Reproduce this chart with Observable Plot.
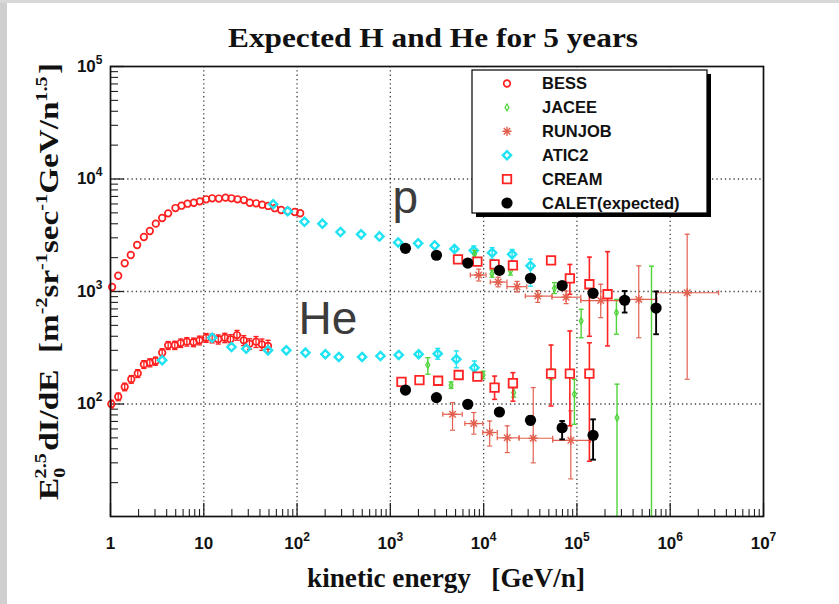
<!DOCTYPE html>
<html><head><meta charset="utf-8">
<script src="https://cdn.jsdelivr.net/npm/d3@7"></script>
<script src="https://cdn.jsdelivr.net/npm/@observablehq/plot@0.6"></script>
<style>
body{margin:0;background:#fff;}
#chart{position:absolute;left:0;top:0;}
.stripL{position:absolute;left:0;top:0;width:7px;height:604px;background:#cfcfcf;}
.stripT{position:absolute;left:0;top:0;width:839px;height:3px;background:#d8d8d8;}
</style></head><body>
<div id="chart"></div><div class="stripL"></div><div class="stripT"></div>
<script>
// ---------------- data ----------------
const legendNames = ["BESS", "JACEE", "RUNJOB", "ATIC2", "CREAM", "CALET(expected)"];
const xTickValues = [1, 10, 100, 1e3, 1e4, 1e5, 1e6, 1e7];
const yTickValues = [100, 1e3, 1e4, 1e5];
const xGridValues = [10, 100, 1e3, 1e4, 1e5, 1e6];
const yGridValues = [100, 1e3, 1e4];
const annotations = [{text: "p", x: 1053, y: 6780}, {text: "He", x: 103.5, y: 566}];

// BESS proton
const bessP_E = [1.04,1.21,1.42,1.65,1.93,2.28,2.64,3.06,3.58,4.15,4.97,5.77,6.69,7.82,9.06,10.6,12.3,14.5,17.1,19.8,23,26.9,31.1,36.4,42.3,49,57.7,67.6,79.4,94.4,108];
const bessP_F = [1096,1380,1782,2110,2590,3050,3450,4010,4500,4950,5520,5790,6030,6150,6330,6600,6740,6700,6830,6740,6600,6500,6150,6080,5910,5760,5500,5300,5200,5090,4960];
// BESS helium
const bessHe_E = [1.02,1.21,1.42,1.67,1.96,2.28,2.64,3.04,3.58,4.15,4.89,5.66,6.58,7.76,8.98,10.6,12.3,14.3,16.8,19.3,22.7,26.8,30.9,36.3,42,48.8];
const bessHe_F = [100,116,142,166,187,225,233,241,286,332,333,348,358,354,368,388,384,376,388,376,410,368,343,358,339,328];
const bessHe_lo = [92,107,131,153,172,207,214,221,262,305,305,318,327,323,335,353,349,341,351,339,369,330,306,318,300,288];
const bessHe_hi = [108,125,153,179,202,243,252,261,310,359,361,378,389,385,401,423,419,411,425,413,451,406,380,398,378,368];

// ATIC2 proton
const aticP_E = [55.4,79.4,120,187,292,486,764,1212,1986,2990,4864,7840,12330,20200,31800];
const aticP_F = [5960,5170,4170,4010,3380,3220,3090,2730,2680,2570,2390,2310,2210,2140,1690];
const aticP_lo = [null,null,null,null,null,null,null,null,null,null,2290,2000,1940,1870,1115];
const aticP_hi = [null,null,null,null,null,null,null,null,null,null,2500,2540,2450,2360,1940];
// ATIC2 helium
const aticHe_E = [3.58,12.3,19.8,28.5,48.8,76.7,123,201,280,498,783,1230,2010,3220,5100,7970];
const aticHe_F = [245,388,321,310,300,300,286,277,262,262,267,273,277,280,250,210];
const aticHe_lo = [null,null,null,null,null,null,null,null,null,null,null,null,265,250,210,171];
const aticHe_hi = [null,null,null,null,null,null,null,null,null,null,null,null,292,312,296,241];

// JACEE proton
const jaceeP_E = [8000,12300,19400,57400,111000,265000];
const jaceeP_F = [2150,1440,1520,1067,547,649];
const jaceeP_lo = [2000,1340,1400,960,388,417];
const jaceeP_hi = [2320,1550,1650,1200,694,850];
// JACEE helium
const jaceeHe_E = [2520,4480,9860,21000,53000,94000,269000,630000];
const jaceeHe_F = [222,147,181,126,186,122,75.5,1];
const jaceeHe_lo = [184,138,168,115,165,66,1,1];
const jaceeHe_hi = [258,157,195,140,205,166,150,1680];

// RUNJOB proton
const runjobP_E = [8850,14300,22800,38000,76600,180000,460000,1520000];
const runjobP_F = [1400,1213,1104,910,890,830,850,975];
const runjobP_lo = [1240,1100,990,800,780,585,388,166];
const runjobP_hi = [1580,1340,1230,1020,1010,1160,1690,3230];
const runjobP_E0 = [7200,11800,17800,28000,54000,110000,290000,720000];
const runjobP_E1 = [10600,17800,29000,54000,110000,290000,720000,3300000];
// RUNJOB helium
const runjobHe_E = [4640,7840,11600,17900,34000,86000];
const runjobHe_F = [81,67,55.8,50,49.6,47.5];
const runjobHe_lo = [58.5,54,42.3,37,30,21.6];
const runjobHe_hi = [103,84,70.6,64,140,87];
const runjobHe_E0 = [3650,6300,9800,14000,24000,55000];
const runjobHe_E1 = [5900,9800,14000,24000,55000,140000];

// CREAM proton
const creamP_E = [5310,8570,13100,20600,52800,84000,136000,213000];
const creamP_F = [1932,1840,1740,1710,1890,1310,1160,945];
const creamP_lo = [1850,1760,1610,1580,1800,945,400,328];
const creamP_hi = [2020,1930,1880,1860,1990,1740,2020,2260];
// CREAM helium
const creamHe_E = [1316,2050,3250,5400,8570,13100,20600,52800,84000,136000];
const creamHe_F = [157,163,161,181,175,140,153,186,186,186];
const creamHe_lo = [150,156,154,172,166,110,106,96,64,31];
const creamHe_hi = [164,170,168,190,185,177,190,334,446,350];

// CALET expected proton
const caletP_E = [1452,3120,6760,14760,31800,69400,149000,325000,706000];
const caletP_F = [2420,2100,1790,1540,1310,1130,964,836,713];
const caletP_lo = [null,null,null,null,null,null,900,650,417];
const caletP_hi = [null,null,null,null,null,null,1040,1010,1000];
// CALET expected helium
const caletHe_E = [1452,3120,6760,14760,31800,69400,149000];
const caletHe_F = [133,114,99.4,84.9,71.6,61.5,52.7];
const caletHe_lo = [null,null,null,null,66,48.5,32];
const caletHe_hi = [null,null,null,null,78,70.6,73];

// ---------------- helpers ----------------
function rows(E, F, lo, hi, x0, x1) {
  return E.map((x, i) => ({
    x, y: F[i],
    lo: lo ? lo[i] : null, hi: hi ? hi[i] : null,
    x0: x0 ? x0[i] : null, x1: x1 ? x1[i] : null
  }));
}
const capH = {draw(ctx, size) { const r = Math.sqrt(size / Math.PI); ctx.moveTo(-r, 0); ctx.lineTo(r, 0); }};
const capV = {draw(ctx, size) { const r = Math.sqrt(size / Math.PI); ctx.moveTo(0, -r); ctx.lineTo(0, r); }};
const star = {draw(ctx, size) {
  const r = Math.sqrt(size / Math.PI), q = r * Math.SQRT1_2;
  ctx.moveTo(-r, 0); ctx.lineTo(r, 0); ctx.moveTo(0, -r); ctx.lineTo(0, r);
  ctx.moveTo(-q, -q); ctx.lineTo(q, q); ctx.moveTo(-q, q); ctx.lineTo(q, -q);
}};

function errMarks(data, color, sw, capR) {
  const v = data.filter(d => d.lo != null);
  const h = data.filter(d => d.x0 != null);
  const common = {stroke: color, strokeWidth: sw, clip: true};
  return [
    Plot.ruleX(v, {x: "x", y1: "lo", y2: "hi", ...common}),
    Plot.dot(v, {x: "x", y: "lo", symbol: capH, r: capR, fill: "none", ...common}),
    Plot.dot(v, {x: "x", y: "hi", symbol: capH, r: capR, fill: "none", ...common}),
    Plot.ruleY(h, {y: "y", x1: "x0", x2: "x1", ...common}),
    Plot.dot(h, {x: "x0", y: "y", symbol: capV, r: capR, fill: "none", ...common}),
    Plot.dot(h, {x: "x1", y: "y", symbol: capV, r: capR, fill: "none", ...common})
  ];
}

const bessP = rows(bessP_E, bessP_F);
const bessHe = rows(bessHe_E, bessHe_F, bessHe_lo, bessHe_hi);
const aticP = rows(aticP_E, aticP_F, aticP_lo, aticP_hi);
const aticHe = rows(aticHe_E, aticHe_F, aticHe_lo, aticHe_hi);
const jaceeP = rows(jaceeP_E, jaceeP_F, jaceeP_lo, jaceeP_hi);
const jaceeHe = rows(jaceeHe_E, jaceeHe_F, jaceeHe_lo, jaceeHe_hi);
const runjobP = rows(runjobP_E, runjobP_F, runjobP_lo, runjobP_hi, runjobP_E0, runjobP_E1);
const runjobHe = rows(runjobHe_E, runjobHe_F, runjobHe_lo, runjobHe_hi, runjobHe_E0, runjobHe_E1);
const creamP = rows(creamP_E, creamP_F, creamP_lo, creamP_hi);
const creamHe = rows(creamHe_E, creamHe_F, creamHe_lo, creamHe_hi);
const caletP = rows(caletP_E, caletP_F, caletP_lo, caletP_hi);
const caletHe = rows(caletHe_E, caletHe_F, caletHe_lo, caletHe_hi);

const C = {bess: "#ff1f1f", jacee: "#4fd43a", runjob: "#e2604f", atic: "#1fe3f2", cream: "#ff2424", calet: "#000"};
const SZ = {bess: 3.3, jacee: 2.1, runjob: 4.6, atic: 3.7, cream: 4.8, calet: 5.6};

const fmt = v => { const k = Math.round(Math.log10(v)); return k === 0 ? "1" : k === 1 ? "10" : "10^" + k; };

const minorX = d3.range(0, 7).flatMap(k => d3.range(2, 10).map(m => m * 10 ** k));
const minorY = d3.range(1, 5).flatMap(k => d3.range(2, 10).map(m => m * 10 ** k));

const W = 839, H = 604, ML = 110, MR = 76, MT = 66, MB = 88;
const FW = W - ML - MR, FH = H - MT - MB;

const plot = Plot.plot({
  width: W, height: H, marginLeft: ML, marginRight: MR, marginTop: MT, marginBottom: MB,
  x: {type: "log", domain: [1, 1e7]},
  y: {type: "log", domain: [10, 1e5]},
  style: {fontFamily: "'Liberation Sans', Arial, sans-serif", fontSize: "17px", background: "white", color: "#111"},
  marks: [
    Plot.gridX({ticks: xGridValues, stroke: "#222", strokeOpacity: 0.85, strokeWidth: 1.3, strokeDasharray: "1.3,3"}),
    Plot.gridY({ticks: yGridValues, stroke: "#222", strokeOpacity: 0.85, strokeWidth: 1.3, strokeDasharray: "1.3,3"}),
    Plot.tickX(minorX, {x: d => d, insetTop: FH - 7, stroke: "#222", strokeWidth: 1.1}),
    Plot.tickX(xTickValues, {x: d => d, insetTop: FH - 13, stroke: "#222", strokeWidth: 1.3}),
    Plot.tickY(minorY, {y: d => d, insetRight: FW - 8, stroke: "#222", strokeWidth: 1.1}),
    Plot.tickY(yTickValues, {y: d => d, insetRight: FW - 14, stroke: "#222", strokeWidth: 1.3}),

    // BESS
    ...errMarks(bessHe, C.bess, 1.3, 2.6),
    Plot.dot(bessP, {x: "x", y: "y", r: SZ.bess, stroke: C.bess, strokeWidth: 1.7, fill: "none"}),
    Plot.dot(bessHe, {x: "x", y: "y", r: SZ.bess, stroke: C.bess, strokeWidth: 1.7, fill: "none"}),
    // ATIC2
    ...errMarks(aticP, C.atic, 1.4, 2.5),
    ...errMarks(aticHe, C.atic, 1.4, 2.5),
    Plot.dot(aticP, {x: "x", y: "y", r: SZ.atic, symbol: "diamond2", stroke: C.atic, strokeWidth: 2.4, fill: "none"}),
    Plot.dot(aticHe, {x: "x", y: "y", r: SZ.atic, symbol: "diamond2", stroke: C.atic, strokeWidth: 2.4, fill: "none"}),
    // JACEE
    ...errMarks(jaceeP, C.jacee, 1.4, 2.5),
    ...errMarks(jaceeHe, C.jacee, 1.4, 2.5),
    Plot.dot(jaceeP, {x: "x", y: "y", r: SZ.jacee, symbol: "diamond", stroke: C.jacee, strokeWidth: 1.2, fill: "none", clip: true}),
    Plot.dot(jaceeHe, {x: "x", y: "y", r: SZ.jacee, symbol: "diamond", stroke: C.jacee, strokeWidth: 1.2, fill: "none", clip: true}),
    // RUNJOB
    ...errMarks(runjobP, C.runjob, 1.2, 2.5),
    ...errMarks(runjobHe, C.runjob, 1.2, 2.5),
    Plot.dot(runjobP, {x: "x", y: "y", r: SZ.runjob, symbol: star, stroke: C.runjob, strokeWidth: 1.4, fill: "none"}),
    Plot.dot(runjobHe, {x: "x", y: "y", r: SZ.runjob, symbol: star, stroke: C.runjob, strokeWidth: 1.4, fill: "none"}),
    // CREAM
    ...errMarks(creamP, C.cream, 1.6, 2.5),
    ...errMarks(creamHe, C.cream, 1.6, 2.5),
    Plot.dot(creamP, {x: "x", y: "y", r: SZ.cream, symbol: "square", stroke: C.cream, strokeWidth: 1.8, fill: "white"}),
    Plot.dot(creamHe, {x: "x", y: "y", r: SZ.cream, symbol: "square", stroke: C.cream, strokeWidth: 1.8, fill: "white"}),
    // CALET
    ...errMarks(caletP, C.calet, 1.9, 2.8),
    ...errMarks(caletHe, C.calet, 1.9, 2.8),
    Plot.dot(caletP, {x: "x", y: "y", r: SZ.calet, fill: C.calet}),
    Plot.dot(caletHe, {x: "x", y: "y", r: SZ.calet, fill: C.calet}),

    Plot.text(annotations, {x: "x", y: "y", text: "text", textAnchor: "start", fontSize: 46, fill: "#3c3c3c", fontFamily: "'Liberation Sans', Arial, sans-serif"}),

    Plot.frame({stroke: "#111", strokeWidth: 1.7}),
    Plot.axisX({ticks: xTickValues, tickSize: 0, tickPadding: 20, tickFormat: fmt, fontWeight: "bold", label: null}),
    Plot.axisY({ticks: yTickValues, tickSize: 0, tickPadding: 8, tickFormat: fmt, fontWeight: "bold", label: null})
  ]
});
document.getElementById("chart").append(plot);

// ---------------- superscripts in tick labels ----------------
const svg = d3.select(plot);
svg.selectAll("g[aria-label$='tick label'] text").each(function () {
  const t = this.textContent;
  if (t.includes("^")) {
    const [base, exp] = t.split("^");
    const el = d3.select(this);
    el.text(null);
    el.append("tspan").text(base);
    el.append("tspan").attr("dy", -8).attr("font-size", 12).text(exp);
  }
});

// ---------------- titles & legend ----------------
const serif = "'Liberation Serif', 'Times New Roman', serif";

svg.append("text").attr("x", 433).attr("y", 47).attr("text-anchor", "middle")
  .attr("font-family", serif).attr("font-weight", "bold").attr("font-size", 27).attr("fill", "#111")
  .attr("textLength", 410).attr("lengthAdjust", "spacingAndGlyphs")
  .text("Expected H and He for 5 years");

svg.append("text").attr("x", 446).attr("y", 587).attr("text-anchor", "middle")
  .attr("font-family", serif).attr("font-weight", "bold").attr("font-size", 27).attr("fill", "#111")
  .attr("textLength", 278).attr("lengthAdjust", "spacingAndGlyphs")
  .style("white-space", "pre")
  .text("kinetic energy   [GeV/n]");

const yl = svg.append("text").attr("transform", "translate(58,281.5) rotate(-90)").attr("text-anchor", "middle")
  .attr("font-family", serif).attr("font-weight", "bold").attr("font-size", 28).attr("fill", "#111")
  .attr("textLength", 437).attr("lengthAdjust", "spacingAndGlyphs").style("white-space", "pre");
const yParts = [
  ["E", 0, 28, 0], ["0", 7, 17, 0], ["2.5", -19, 17, -9], ["dI/dE  [m", 12, 28, 2],
  ["-2", -11, 17, 0], ["sr", 11, 28, 0], ["-1", -11, 17, 0], ["sec", 11, 28, 0],
  ["-1", -11, 17, 0], ["GeV/n", 11, 28, 0], ["1.5", -11, 17, 0], ["]", 11, 28, 2]
];
yParts.forEach(([t, dy, fs, dx]) => yl.append("tspan").attr("dy", dy).attr("dx", dx).attr("font-size", fs).text(t));

const lg = svg.append("g").attr("text-anchor", "start");
lg.append("rect").attr("x", 476).attr("y", 74).attr("width", 235).attr("height", 143).attr("fill", "#000");
lg.append("rect").attr("x", 472).attr("y", 70).attr("width", 235).attr("height", 143).attr("fill", "#fff").attr("stroke", "#000").attr("stroke-width", 1.2);
const legendStyle = [
  {type: d3.symbolCircle, r: SZ.bess, stroke: C.bess, fill: "none", sw: 1.7},
  {type: d3.symbolDiamond, r: SZ.jacee, stroke: C.jacee, fill: "none", sw: 1.2},
  {type: star, r: SZ.runjob, stroke: C.runjob, fill: "none", sw: 1.4},
  {type: d3.symbolDiamond2, r: SZ.atic, stroke: C.atic, fill: "none", sw: 2.4},
  {type: d3.symbolSquare, r: SZ.cream, stroke: C.cream, fill: "none", sw: 1.8},
  {type: d3.symbolCircle, r: SZ.calet, stroke: "none", fill: "#000", sw: 0}
];
legendNames.forEach((name, i) => {
  const cy = 83.5 + i * 23.9;
  const s = legendStyle[i];
  lg.append("path").attr("transform", `translate(507,${cy})`)
    .attr("d", d3.symbol(s.type, Math.PI * s.r * s.r)())
    .attr("fill", s.fill).attr("stroke", s.stroke).attr("stroke-width", s.sw);
  lg.append("text").attr("x", 542).attr("y", cy).attr("dy", "0.36em").attr("text-anchor", "start")
    .attr("font-family", "'Liberation Sans', Arial, sans-serif").attr("font-weight", "bold").attr("font-size", 16.5).attr("fill", "#111")
    .text(name);
});
</script>
</body></html>
